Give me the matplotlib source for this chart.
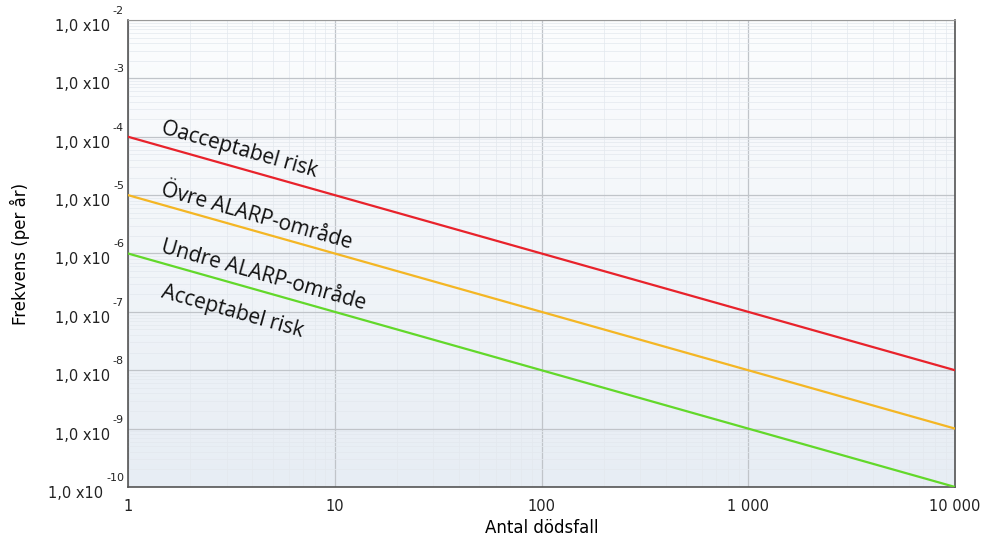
import numpy as np
import matplotlib
matplotlib.use("Agg")
from matplotlib import pyplot as plt
from matplotlib.colors import LinearSegmentedColormap
from matplotlib.transforms import blended_transform_factory, offset_copy

# F-N curve limits (frequency per year vs number of fatalities)
deaths = [1, 10000]
red_line = [1e-4, 1e-8]
orange_line = [1e-5, 1e-9]
green_line = [1e-6, 1e-10]

x_ticks = [1, 10, 100, 1000, 10000]
x_labels = ["1", "10", "100", "1 000", "10 000"]
y_exps = [-2, -3, -4, -5, -6, -7, -8, -9, -10]

zone_labels = ["Oacceptabel risk", "Övre ALARP-område", "Undre ALARP-område", "Acceptabel risk"]
# left-anchor of each label (x, y) in data units
zone_pos = [(1.43, 1.16e-4), (1.43, 1.0e-5), (1.43, 1.07e-6), (1.43, 1.75e-7)]

plt.rcParams["font.family"] = ["DejaVu Sans"]

fig = plt.figure(figsize=(9.9, 5.42), dpi=100)
ax = fig.add_axes([0.1293, 0.1015, 0.8354, 0.8616])
ax.set_xscale("log")
ax.set_yscale("log")
ax.set_xlim(1, 10000)
ax.set_ylim(1e-10, 1e-2)

# soft gradient background
cmap = LinearSegmentedColormap.from_list("bg", ["#e7edf4", "#fcfdfe"])
grad = np.linspace(0, 1, 256).reshape(-1, 1)
ax.imshow(grad, cmap=cmap, aspect="auto", extent=[0, 1, 0, 1],
          transform=ax.transAxes, origin="lower", zorder=0)

ax.grid(which="major", color="#c0c4c9", linewidth=0.9, zorder=1)
ax.grid(which="minor", color="#e3e8ee", linewidth=0.5, zorder=1)
ax.set_axisbelow(True)

ax.plot(deaths, red_line, color="#e8222b", linewidth=1.6, zorder=3)
ax.plot(deaths, orange_line, color="#f4b624", linewidth=1.6, zorder=3)
ax.plot(deaths, green_line, color="#62d82a", linewidth=1.6, zorder=3)

ax.set_xticks(x_ticks)
ax.set_xticklabels(x_labels)
ax.set_yticks([10.0 ** e for e in y_exps])
ax.set_yticklabels([])
ax.tick_params(which="both", length=0, labelsize=10.5, colors="#222222")
ax.tick_params(axis="x", pad=9)

for side in ["left", "bottom", "right"]:
    ax.spines[side].set_color("#555555")
    ax.spines[side].set_linewidth(1.2)
ax.spines["top"].set_color("#999999")

ax.set_ylabel("Frekvens (per år)", fontsize=12, labelpad=67)
ax.set_xlabel("Antal dödsfall", fontsize=12, labelpad=3)

# y tick labels "1,0 x10" with raised exponent
renderer = fig.canvas.get_renderer()
btr = blended_transform_factory(ax.transAxes, ax.transData)
for e in y_exps:
    sup_tr = offset_copy(btr, fig=fig, x=-4, y=4, units="dots")
    sup = ax.text(0, 10.0 ** e, "%d" % e, transform=sup_tr, ha="right",
                  va="bottom", fontsize=8, color="#222222", clip_on=False)
    w = sup.get_window_extent(renderer).width
    main_tr = offset_copy(btr, fig=fig, x=-4 - w - 3, y=1, units="dots")
    ax.text(0, 10.0 ** e, "1,0 x10", transform=main_tr, ha="right",
            va="top", fontsize=10.5, color="#222222", clip_on=False)

# rotate labels to follow the line slope on screen
p1 = ax.transData.transform((1, 1e-4))
p2 = ax.transData.transform((10, 1e-5))
angle = np.degrees(np.arctan2(p2[1] - p1[1], p2[0] - p1[0]))
for txt, (xx, yy) in zip(zone_labels, zone_pos):
    ax.text(xx, yy, txt, rotation=angle, rotation_mode="anchor",
            ha="left", va="baseline", fontsize=15, family="Open Sans",
            color="#111111", zorder=4)

fig.savefig("out.png", dpi=100)
